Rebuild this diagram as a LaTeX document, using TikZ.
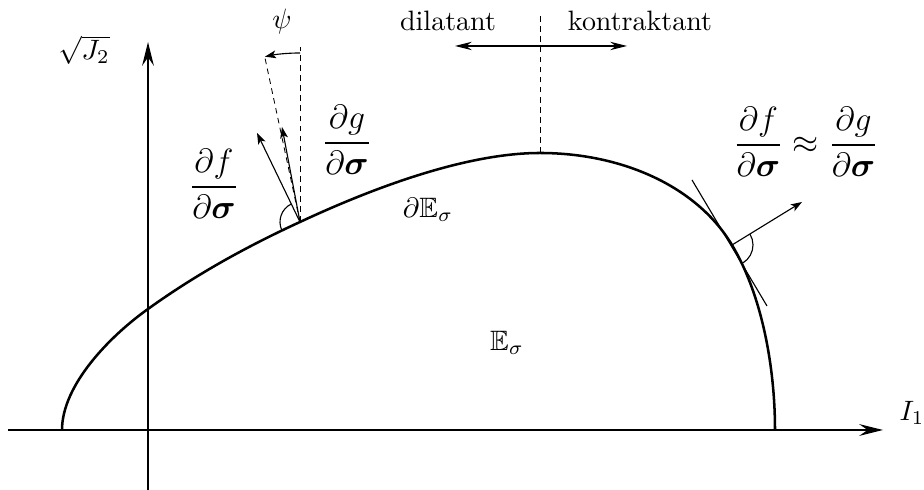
\documentclass[tikz,border=0pt]{standalone}
\usepackage{amsmath,amssymb,bm}
\usetikzlibrary{arrows.meta,calc}
\begin{document}
\begin{tikzpicture}[x=0.357pt,y=0.357pt,
  axis/.style={line width=0.45pt,-{Stealth[length=8.5pt,width=4.2pt,inset=3pt]}},
  vec/.style={line width=0.4pt,-{Stealth[length=4pt,width=2.8pt,inset=1pt]}},
  dblarrow/.style={line width=0.4pt,{Stealth[length=6pt,width=3pt,inset=2pt]}-{Stealth[length=6pt,width=3pt,inset=2pt]}},
  helper/.style={line width=0.3pt,dash pattern=on 2pt off 1.6pt},
  thinline/.style={line width=0.4pt},
  yieldcurve/.style={line width=0.9pt},
  lbl/.style={inner sep=0pt}]
\useasboundingbox (0,0) rectangle (924,490);

% axes
\coordinate (xs) at (8,60);
\coordinate (xe) at (883,60);
\coordinate (ys) at (148,0);
\coordinate (ye) at (148,448);
\draw[axis] (xs) -- (xe);
\draw[axis] (ys) -- (ye);
\node[lbl] (I1) at (912,77) {$I_1$};
\node[lbl] (J2) at (84,440) {$\sqrt{J_2}$};

% yield surface
\coordinate (S0) at (62,60);
\coordinate (S1) at (148,181);
\coordinate (B) at (300,268);
\coordinate (P) at (540,337);
\coordinate (C) at (732,245);
\coordinate (S5) at (775,60);
\draw[yieldcurve] (S0) .. controls (62,105) and (110,154) .. (S1)
  .. controls (198,217) and (250,245) .. (B)
  .. controls (360,296) and (460,337) .. (P)
  .. controls (620,337) and (696,305) .. (C)
  .. controls (763,193) and (775,120) .. (S5);

% left normals
\coordinate (Bv) at (300,443);
\coordinate (Bt) at (265,432);
\coordinate (Bg) at (282,363);
\coordinate (Bf) at (257,357);
\draw[helper] (B) -- (Bv);
\draw[helper] (B) -- (Bt);
\draw[vec] (B) -- (Bg);
\draw[vec] (B) -- (Bf);
\draw[thinline,-{Stealth[length=4pt,width=2.8pt,inset=1pt]}] ($(B)+(90:169)$) arc[start angle=90,end angle=102,radius=169];
\draw[thinline] ($(B)+(115.8:20)$) arc[start angle=115.8,end angle=204.6,radius=20];
\node[lbl] (psi) at (282,468) {$\psi$};
\node[lbl] (dfl) at (214,306) {\large$\dfrac{\partial f}{\partial\bm{\sigma}}$};
\node[lbl] (dgl) at (347,350) {\large$\dfrac{\partial g}{\partial\bm{\sigma}}$};

% right normal
\coordinate (Ct1) at (692,310);
\coordinate (Ct2) at (767,184);
\coordinate (Cn) at (802,288);
\draw[thinline] (Ct1) -- (Ct2);
\draw[vec] (C) -- (Cn);
\draw[thinline] ($(C)+(-59.2:21)$) arc[start angle=-59.2,end angle=31.7,radius=21];
\node[lbl] (dfg) at (806,348) {\large$\dfrac{\partial f}{\partial\bm{\sigma}}\approx\dfrac{\partial g}{\partial\bm{\sigma}}$};

% dilatant / kontraktant
\coordinate (Pt) at (540,477);
\coordinate (Al) at (455,444);
\coordinate (Ar) at (627,444);
\draw[helper] (P) -- (Pt);
\draw[dblarrow] (Al) -- (Ar);
\node[lbl] (dil) at (448,469) {dilatant};
\node[lbl] (kon) at (640,469) {kontraktant};

% region labels
\node[lbl] (dE) at (428,280) {$\partial\mathbb{E}_\sigma$};
\node[lbl] (E) at (507,147) {$\mathbb{E}_\sigma$};
\end{tikzpicture}
\end{document}
